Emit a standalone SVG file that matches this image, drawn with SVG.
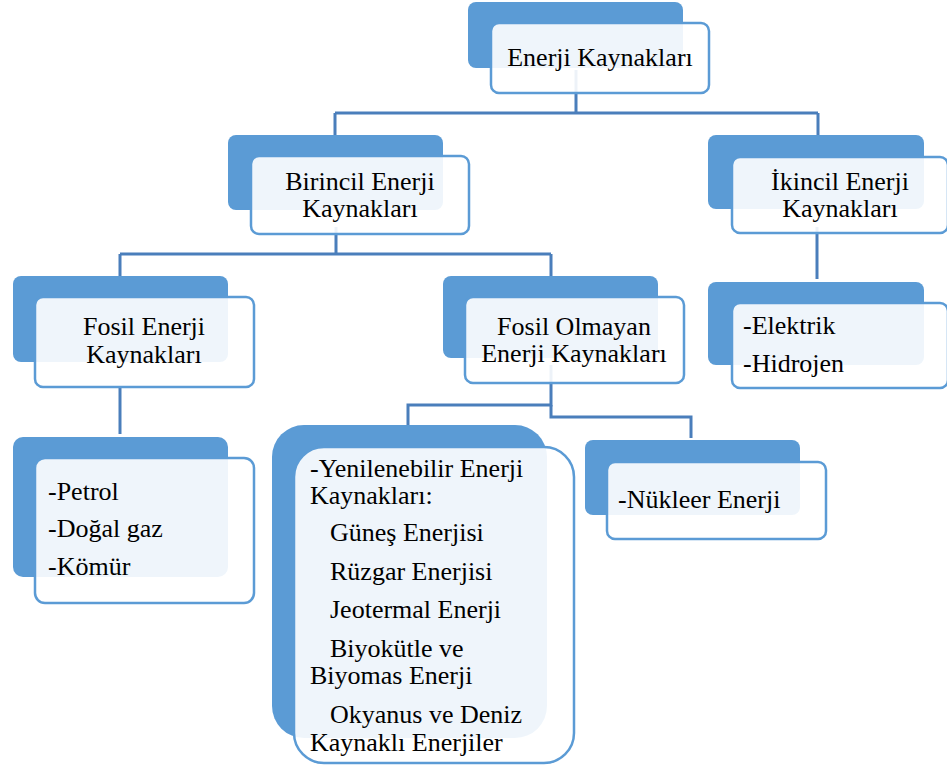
<svg xmlns="http://www.w3.org/2000/svg" width="947" height="767" viewBox="0 0 947 767">
<style>
.back{fill:#5B9BD5;}
.front{fill:#FFFFFF;fill-opacity:0.9;stroke:#5B9BD5;stroke-width:2.5;}
.conn{fill:none;stroke:#4A7EBB;stroke-width:3;}
.t{font-family:"Times New Roman",Times,"Liberation Serif",Tinos,"DejaVu Serif",serif;font-size:26px;fill:#000000;}
.c{text-anchor:middle;}
</style>
<rect width="947" height="767" fill="#FFFFFF"/>
<g id="connectors">
<path class="conn" d="M576,70 V113 M335,113 H818 M335,113 V136 M818,113 V136"/>
<path class="conn" d="M336,227 V254 M120,254 H551 M120,254 V277 M551,254 V277"/>
<path class="conn" d="M817,227 V279"/>
<path class="conn" d="M120,387 V434"/>
<path class="conn" d="M551,365 V405 H408 V426"/>
<path class="conn" d="M551,405 V417 H691 V438"/>
</g>
<g id="node-enerji-kaynaklari">
<rect class="back" x="468" y="2" width="215" height="66" rx="8"/>
<rect class="front" x="491" y="23" width="218" height="70" rx="8"/>
<text class="t c" x="600" y="66">Enerji Kaynakları</text>
</g>
<g id="node-birincil">
<rect class="back" x="228" y="135" width="215" height="75" rx="8"/>
<rect class="front" x="251" y="156" width="218" height="78" rx="8"/>
<text class="t c" x="360" y="190">Birincil Enerji</text>
<text class="t c" x="360" y="217">Kaynakları</text>
</g>
<g id="node-ikincil">
<rect class="back" x="708" y="135" width="216" height="74" rx="8"/>
<rect class="front" x="732" y="157" width="216" height="76" rx="8"/>
<text class="t c" x="840" y="190">İkincil Enerji</text>
<text class="t c" x="840" y="217">Kaynakları</text>
</g>
<g id="node-elektrik-hidrojen">
<rect class="back" x="708" y="282" width="216" height="83" rx="8"/>
<rect class="front" x="732" y="303" width="216" height="85" rx="8"/>
<text class="t" x="743" y="334">-Elektrik</text>
<text class="t" x="743" y="372">-Hidrojen</text>
</g>
<g id="node-fosil">
<rect class="back" x="13" y="276" width="215" height="86" rx="8"/>
<rect class="front" x="35" y="297" width="219" height="90" rx="8"/>
<text class="t c" x="144" y="335">Fosil Enerji</text>
<text class="t c" x="144" y="363">Kaynakları</text>
</g>
<g id="node-petrol-dogalgaz-komur">
<rect class="back" x="13" y="437" width="215" height="140" rx="10"/>
<rect class="front" x="35" y="458" width="219" height="145" rx="10"/>
<text class="t" x="48" y="500">-Petrol</text>
<text class="t" x="48" y="537">-Doğal gaz</text>
<text class="t" x="48" y="575">-Kömür</text>
</g>
<g id="node-fosil-olmayan">
<rect class="back" x="443" y="276" width="215" height="82" rx="8"/>
<rect class="front" x="465" y="297" width="219" height="86" rx="8"/>
<text class="t c" x="574" y="335">Fosil Olmayan</text>
<text class="t c" x="574" y="362">Enerji Kaynakları</text>
</g>
<g id="node-yenilenebilir">
<rect class="back" x="272" y="425" width="275" height="313" rx="32"/>
<rect class="front" x="294" y="447" width="280" height="316" rx="30"/>
<text class="t" x="310" y="477">-Yenilenebilir Enerji</text>
<text class="t" x="310" y="504">Kaynakları:</text>
<text class="t" x="330" y="541">Güneş Enerjisi</text>
<text class="t" x="330" y="580">Rüzgar Enerjisi</text>
<text class="t" x="330" y="618">Jeotermal Enerji</text>
<text class="t" x="330" y="657">Biyokütle ve</text>
<text class="t" x="310" y="684">Biyomas Enerji</text>
<text class="t" x="330" y="723">Okyanus ve Deniz</text>
<text class="t" x="310" y="751">Kaynaklı Enerjiler</text>
</g>
<g id="node-nukleer">
<rect class="back" x="585" y="440" width="215" height="75" rx="8"/>
<rect class="front" x="607" y="462" width="219" height="77" rx="8"/>
<text class="t" x="618" y="508">-Nükleer Enerji</text>
</g>
</svg>
